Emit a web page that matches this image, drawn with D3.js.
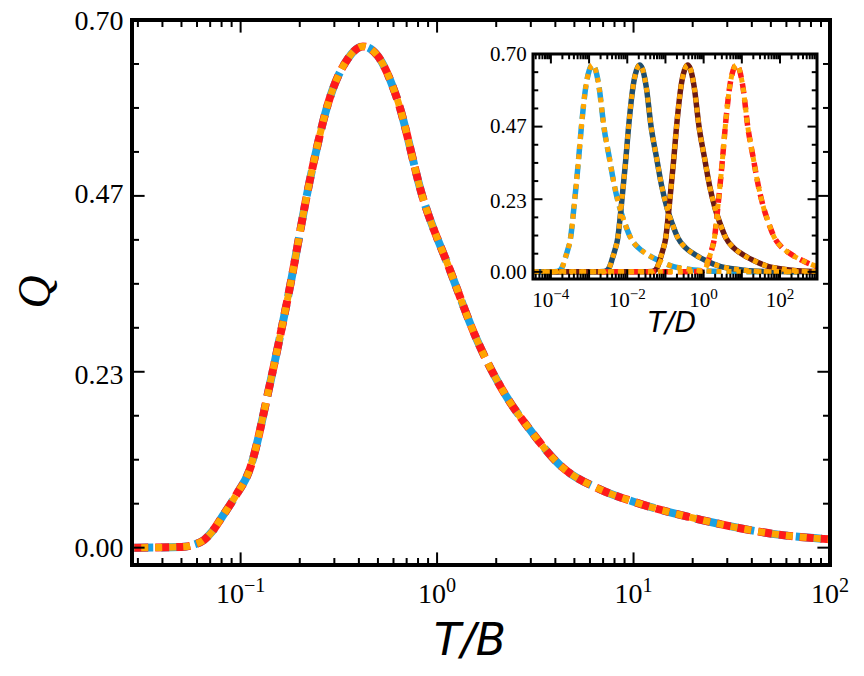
<!DOCTYPE html>
<html><head><meta charset="utf-8">
<script src="https://cdn.jsdelivr.net/npm/d3@7"></script>
<style>body{margin:0;background:#fff}</style>
</head><body><div id="chart"></div>
<script>
// main curve (T/B, Q)
const tB = [0.0001, 0.028, 0.05, 0.058, 0.065, 0.072, 0.081, 0.095, 0.111, 0.141, 0.178, 0.225, 0.284, 0.35, 0.419, 0.5, 0.625, 0.849, 1.16, 1.6, 2.2, 2.98, 4.2, 6.8, 10, 22, 56, 100, 1000, 100000];
const qVals = [0, 0, 0.001, 0.004, 0.010, 0.022, 0.042, 0.07, 0.103, 0.217, 0.345, 0.487, 0.596, 0.648, 0.665, 0.652, 0.596, 0.463, 0.369, 0.275, 0.205, 0.156, 0.11, 0.077, 0.061, 0.037, 0.017, 0.011, 0.001, 0];
// inset: each curve is the same shape in T/D units, shift factor B/D per curve
const insetShift = [0.0029, 0.05, 0.9, 17];
const insetColors = ['#1ba1e2', '#1f4e6e', '#6b1a14', '#ff1a1a'];
const insetDash = ['14,6', null, null, '10,6'];
const yTicks = [0, 0.23, 0.47, 0.70];

const W = 864, H = 676;
const svg = d3.select('#chart').append('svg').attr('width', W).attr('height', H);
const serif = 'Liberation Serif, Times New Roman, serif';

function sup(sel, e) {
  sel.append('tspan').text('10');
  sel.append('tspan').attr('dy', '-0.55em').attr('font-size', '0.72em').text(e < 0 ? '\u2212' + (-e) : e);
}

function panel(box, xDom, decades, fs, lw, series) {
  const x = d3.scaleLog().domain(xDom).range([box.l, box.r]);
  const y = d3.scaleLinear().domain([-0.023, 0.70]).range([box.b, box.t]);
  const g = svg.append('g');
  const clip = 'c' + Math.round(box.l);
  g.append('clipPath').attr('id', clip).append('rect')
    .attr('x', box.l).attr('y', box.t).attr('width', box.r - box.l).attr('height', box.b - box.t);
  const line = d3.line().x(d => x(d[0])).y(d => y(d[1])).curve(d3.curveMonotoneX);
  const cg = g.append('g').attr('clip-path', `url(#${clip})`);
  series.forEach(s => {
    cg.append('path').datum(s.pts).attr('d', line).attr('fill', 'none')
      .attr('stroke', s.color).attr('stroke-width', s.w)
      .attr('stroke-dasharray', s.dash).attr('stroke-linejoin', 'round');
  });
  const tk = g.append('g').attr('stroke', '#000');
  const minor = [];
  for (let e = decades[0] - 1; e <= decades[1]; e++)
    for (let m = 1; m < 10; m++) {
      const v = m * Math.pow(10, e);
      if (v >= xDom[0] && v <= xDom[1]) minor.push([v, m === 1]);
    }
  const big = fs * 0.45, small = fs * 0.25;
  minor.forEach(([v, maj]) => {
    const L = maj ? big : small, px = x(v);
    tk.append('line').attr('x1', px).attr('x2', px).attr('y1', box.b).attr('y2', box.b - L).attr('stroke-width', 2);
    tk.append('line').attr('x1', px).attr('x2', px).attr('y1', box.t).attr('y2', box.t + L).attr('stroke-width', 2);
  });
  for (let i = 0; i <= 12; i++) {
    const v = i * 0.7 / 12, L = i % 4 === 0 ? big : small, py = y(v);
    tk.append('line').attr('x1', box.l).attr('x2', box.l + L).attr('y1', py).attr('y2', py).attr('stroke-width', 2);
    tk.append('line').attr('x1', box.r).attr('x2', box.r - L).attr('y1', py).attr('y2', py).attr('stroke-width', 2);
  }
  for (let e = decades[0]; e <= decades[1]; e += decades[2]) {
    const t = g.append('text').attr('x', x(Math.pow(10, e))).attr('y', box.b + fs * 1.35)
      .attr('text-anchor', 'middle').attr('font-family', serif).attr('font-size', fs);
    sup(t, e);
  }
  yTicks.forEach(v => {
    g.append('text').attr('x', box.l - fs * 0.3).attr('y', y(v) + fs * 0.35)
      .attr('text-anchor', 'end').attr('font-family', serif).attr('font-size', fs).text(v.toFixed(2));
  });
  g.append('rect').attr('x', box.l).attr('y', box.t).attr('width', box.r - box.l).attr('height', box.b - box.t)
    .attr('fill', 'none').attr('stroke', '#000').attr('stroke-width', lw);
  return { x, y };
}

const pts = tB.map((t, i) => [t, qVals[i]]);
panel({ l: 132, r: 830, t: 20, b: 565 }, [0.028, 100], [-1, 2, 1], 28, 4, [
  { pts, color: '#1ba1e2', w: 8, dash: '26,8' },
  { pts, color: '#ff1a1a', w: 8, dash: '14,7' },
  { pts, color: '#ffa500', w: 7, dash: '7,7' }
]);
svg.append('text').attr('x', 470).attr('y', 655).attr('text-anchor', 'middle')
  .attr('font-family', 'DejaVu Sans, sans-serif').attr('font-style', 'italic').attr('font-size', 44).text('T/B');
svg.append('text').attr('transform', 'translate(50,292) rotate(-90)').attr('text-anchor', 'middle')
  .attr('font-family', serif).attr('font-style', 'italic').attr('font-size', 46).text('Q');

// inset
const inset = [];
insetShift.forEach((k, i) => {
  inset.push({ pts: tB.map((t, j) => [t * k, qVals[j]]), color: insetColors[i], w: 5.5, dash: insetDash[i] });
});
insetShift.forEach(k => {
  inset.push({ pts: tB.map((t, j) => [t * k, qVals[j]]), color: '#ffa500', w: 5, dash: '5,5' });
});
svg.append('rect').attr('x', 533).attr('y', 54).attr('width', 284).attr('height', 225).attr('fill', '#fff');
panel({ l: 533, r: 817, t: 54, b: 279 }, [3.4e-5, 930], [-4, 2, 2], 21, 3, inset);
svg.append('text').attr('x', 672).attr('y', 332).attr('text-anchor', 'middle')
  .attr('font-family', 'DejaVu Sans, sans-serif').attr('font-style', 'italic').attr('font-size', 28).text('T/D');
</script></body></html>
